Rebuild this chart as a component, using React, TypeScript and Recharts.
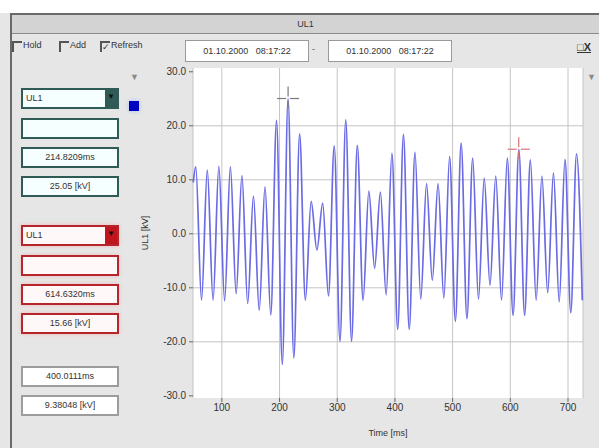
import { LineChart, Line, XAxis, YAxis, CartesianGrid, ReferenceDot } from "recharts";

// time of each sample (ms): start of window, then alternating peak / trough
const timeMs = [
  50.5,
  54.8, 64.8, 74.8, 84.8, 94.8, 104.8, 114.8, 124.8, 134.8, 144.8,
  154.8, 164.8, 174.8, 184.8, 194.8, 204.8, 214.8, 224.8, 234.8, 244.8,
  254.8, 264.8, 274.8, 284.8, 294.8, 304.8, 314.8, 324.8, 334.8, 344.8,
  354.8, 364.8, 374.8, 384.8, 394.8, 404.8, 414.8, 424.8, 434.8, 444.8,
  454.8, 464.8, 474.8, 484.8, 494.8, 504.8, 514.8, 524.8, 534.8, 544.8,
  554.8, 564.8, 574.8, 584.8, 594.8, 604.8, 614.8, 624.8, 634.8, 644.8,
  654.8, 664.8, 674.8, 684.8, 694.8, 704.8, 714.8, 724.8,
];

// UL1 voltage (kV) at those samples
const voltageKv = [
  9.5,
  12.4, -12.3, 11.8, -12.3, 12.5, -12.4, 12.4, -11.1, 10.8, -12.9,
  7.0, -14.2, 8.7, -15.0, 21.0, -24.2, 25.05, -23.0, 18.5, -12.3,
  6.0, -3.0, 5.7, -11.5, 16.3, -19.9, 21.1, -19.9, 16.4, -12.3,
  7.9, -6.4, 7.7, -11.3, 14.9, -17.7, 18.4, -17.7, 15.1, -12.1,
  9.3, -8.6, 9.3, -11.9, 14.3, -16.2, 16.8, -15.7, 14.0, -12.1,
  10.3, -9.5, 10.7, -12.3, 14.0, -15.1, 15.66, -15.1, 13.7, -12.3,
  10.7, -10.9, 11.3, -12.6, 13.8, -14.6, 14.8, -12.3,
];

const xTicks = [100, 200, 300, 400, 500, 600, 700];
const yTicks = [-30, -20, -10, 0, 10, 20, 30];

// cursor positions
const cursor1 = { t: 214.8209, v: 25.05 };
const cursor2 = { t: 614.632, v: 15.66 };

const data = timeMs.map((t, i) => ({ t, v: voltageKv[i] }));

const font = '"Liberation Sans", Arial, sans-serif';

const cross = (color: string) => (p: any) => (
  <g stroke={color} strokeWidth={1.2}>
    <line x1={p.cx - 11} x2={p.cx - 2} y1={p.cy} y2={p.cy} />
    <line x1={p.cx + 2} x2={p.cx + 11} y1={p.cy} y2={p.cy} />
    <line x1={p.cx} x2={p.cx} y1={p.cy - 12} y2={p.cy - 2} />
    <line x1={p.cx} x2={p.cx} y1={p.cy + 2} y2={p.cy + 10} />
  </g>
);

const tones: Record<string, { border: string; bg: string; btn: string }> = {
  teal: { border: "#2f5b57", bg: "#f6ffff", btn: "#2f5a55" },
  red: { border: "#b5262c", bg: "#fff8f8", btn: "#c0151d" },
  gray: { border: "#9c9c9c", bg: "#ffffff", btn: "#888" },
};

function Field({ top, text, tone, dropdown }: { top: number; text?: string; tone: string; dropdown?: boolean }) {
  const c = tones[tone];
  return (
    <div
      style={{
        position: "absolute",
        left: 21,
        top,
        width: 98,
        height: 21,
        boxSizing: "border-box",
        border: `2px solid ${c.border}`,
        background: c.bg,
        boxShadow: tone === "red" ? "0 0 4px #f3b8b8" : "none",
        fontSize: 9,
        color: "#333",
        lineHeight: "17px",
        textAlign: dropdown ? "left" : "center",
        paddingLeft: dropdown ? 3 : 0,
      }}
    >
      {text}
      {dropdown && (
        <div
          style={{
            position: "absolute",
            right: 0,
            top: 0,
            width: 12,
            height: 17,
            background: c.btn,
            color: "#111",
            fontSize: 8,
            lineHeight: "13px",
            textAlign: "center",
          }}
        >
          ▼
        </div>
      )}
    </div>
  );
}

function Check({ left, label, checked }: { left: number; label: string; checked?: boolean }) {
  return (
    <>
      <div
        style={{
          position: "absolute",
          left,
          top: 41,
          width: 8,
          height: 9,
          borderTop: "2px solid #555",
          borderLeft: "2px solid #555",
          fontSize: 9,
          lineHeight: "9px",
          color: "#333",
          textAlign: "center",
        }}
      >
        {checked ? "✓" : ""}
      </div>
      <div style={{ position: "absolute", left: left + 11, top: 40, fontSize: 9, color: "#333" }}>{label}</div>
    </>
  );
}

function DateBox({ left }: { left: number }) {
  return (
    <div
      style={{
        position: "absolute",
        left,
        top: 40,
        width: 124,
        height: 22,
        boxSizing: "border-box",
        background: "#fff",
        border: "1px solid #9a9a9a",
        fontSize: 9,
        lineHeight: "20px",
        textAlign: "center",
        color: "#333",
        whiteSpace: "pre",
      }}
    >
      {"01.10.2000   08:17:22"}
    </div>
  );
}

export default function App() {
  return (
    <div style={{ position: "relative", width: 599, height: 448, background: "#e6e6e6", overflow: "hidden", fontFamily: font }}>
      <style>{"body{margin:0}"}</style>
      {/* window frame */}
      <div style={{ position: "absolute", left: 0, top: 0, width: 599, height: 13, background: "#fff" }} />
      <div style={{ position: "absolute", left: 10, top: 13, width: 589, height: 435, borderLeft: "2px solid #6a6a6a", borderTop: "2px solid #6a6a6a" }} />
      <div
        style={{
          position: "absolute",
          left: 12,
          top: 15,
          width: 587,
          height: 18,
          background: "#d3d3d3",
          borderBottom: "1px solid #8a8a8a",
          fontSize: 9,
          lineHeight: "18px",
          textAlign: "center",
          color: "#333",
        }}
      >
        UL1
      </div>

      {/* toolbar */}
      <Check left={12} label="Hold" />
      <Check left={59} label="Add" />
      <Check left={100} label="Refresh" checked />
      <DateBox left={185} />
      <div style={{ position: "absolute", left: 312, top: 44, fontSize: 9, color: "#555" }}>-</div>
      <DateBox left={328} />
      <div style={{ position: "absolute", left: 577, top: 41, fontSize: 11, fontWeight: "bold", color: "#333", textDecoration: "underline" }}>□X</div>

      {/* cursor panels */}
      <Field top={88} text="UL1" tone="teal" dropdown />
      <Field top={118} tone="teal" />
      <Field top={147} text="214.8209ms" tone="teal" />
      <Field top={176} text="25.05 [kV]" tone="teal" />
      <Field top={225} text="UL1" tone="red" dropdown />
      <Field top={255} tone="red" />
      <Field top={284} text="614.6320ms" tone="red" />
      <Field top={313} text="15.66 [kV]" tone="red" />
      <Field top={366} text="400.0111ms" tone="gray" />
      <Field top={395} text="9.38048 [kV]" tone="gray" />
      <div style={{ position: "absolute", left: 130, top: 72, fontSize: 9, color: "#8a8a8a" }}>▼</div>
      <div style={{ position: "absolute", left: 587, top: 72, fontSize: 9, color: "#8a8a8a" }}>▼</div>
      <div style={{ position: "absolute", left: 129, top: 101, width: 10, height: 10, background: "#0000c0", boxShadow: "0 0 4px #a8b8ff" }} />

      {/* axis titles */}
      <div
        style={{
          position: "absolute",
          left: 145,
          top: 233,
          fontSize: 9,
          color: "#333",
          transform: "translate(-50%, -50%) rotate(-90deg)",
          whiteSpace: "nowrap",
        }}
      >
        UL1 [kV]
      </div>
      <div style={{ position: "absolute", left: 388, top: 433, fontSize: 9, color: "#333", transform: "translate(-50%, -50%)" }}>
        Time [ms]
      </div>

      <div style={{ position: "absolute", left: 0, top: 0 }}>
        <LineChart width={599} height={448} data={data} margin={{ top: 68, right: 16, bottom: 30, left: 153 }}>
          <CartesianGrid fill="#ffffff" fillOpacity={1} stroke="#c4c4c4" horizontalValues={[-20, -10, 0, 10, 20]} />
          <XAxis
            dataKey="t"
            type="number"
            domain={[50, 726]}
            ticks={xTicks}
            axisLine={false}
            tickSize={4}
            tickMargin={2}
            height={20}
            tickLine={{ stroke: "#666" }}
            tick={{ fontSize: 10, fill: "#333", fontFamily: font }}
          />
          <YAxis
            type="number"
            domain={[-30.4, 30.7]}
            ticks={yTicks}
            tickFormatter={(v: number) => v.toFixed(1)}
            axisLine={false}
            width={40}
            tickSize={4}
            tickMargin={3}
            tickLine={{ stroke: "#666" }}
            tick={{ fontSize: 10, fill: "#333", fontFamily: font }}
          />
          <Line type="monotone" dataKey="v" stroke="#6b6be4" strokeWidth={1.7} dot={false} isAnimationActive={false} />
          <ReferenceDot x={cursor1.t} y={cursor1.v} r={10} shape={cross("#7a7a7a")} />
          <ReferenceDot x={cursor2.t} y={cursor2.v} r={10} shape={cross("#e07070")} />
        </LineChart>
      </div>
    </div>
  );
}
